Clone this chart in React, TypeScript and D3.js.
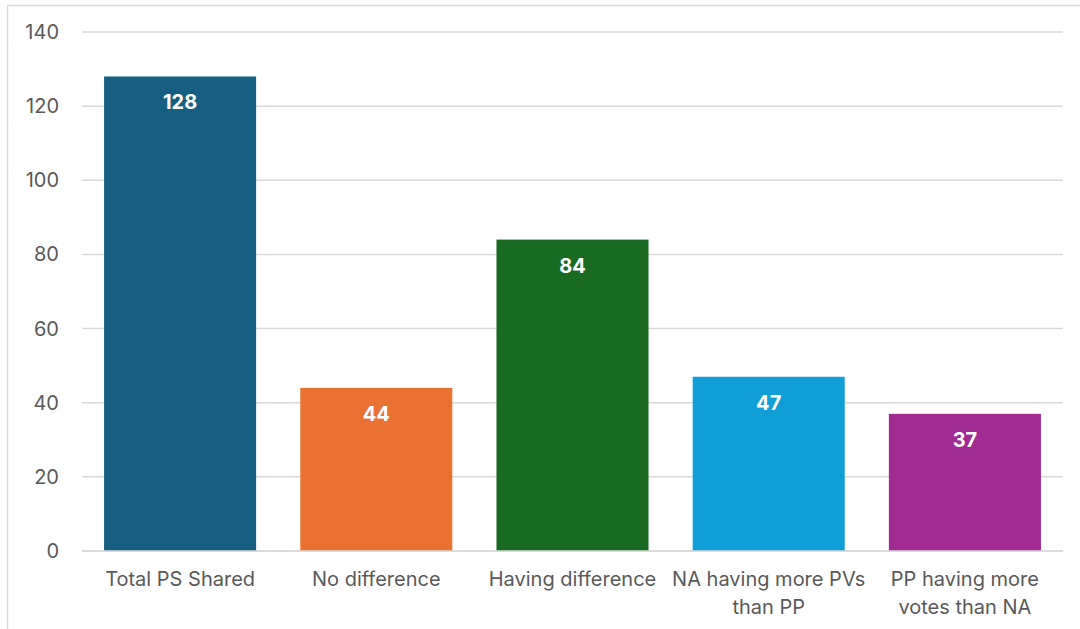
import React from "react";
import * as d3 from "d3";

const categories: string[][] = [
  ["Total PS Shared"],
  ["No difference"],
  ["Having difference"],
  ["NA having more PVs", "than PP"],
  ["PP having more", "votes than NA"],
];
const values = [128, 44, 84, 47, 37];
const colors = ["#156082", "#E97132", "#196B24", "#0F9ED5", "#A02B93"];
const yTicks = [0, 20, 40, 60, 80, 100, 120, 140];

const W = 1080;
const H = 629;
const FONT = "Inter, 'Open Sans', sans-serif";

export default function App() {
  const left = 82;
  const right = 1063;
  const top = 32;
  const bottom = 551;
  const x = d3
    .scaleBand<number>()
    .domain(values.map((_, i) => i))
    .range([left, right])
    .paddingInner(0.225)
    .paddingOuter(0.1125);
  const y = d3.scaleLinear().domain([0, 140]).range([bottom, top]);

  return (
    <div style={{ position: "fixed", left: 0, top: 0, width: W, height: H, background: "#fff" }}>
      <svg width={W} height={H} style={{ display: "block", fontFamily: FONT }}>
        <rect x={7.5} y={5.5} width={W + 10} height={H + 10} fill="#fff" stroke="#d9d9d9" strokeWidth={1.5} />
        {yTicks.map((t) => (
          <g key={t}>
            <line x1={left} x2={right} y1={y(t)} y2={y(t)} stroke="#d9d9d9" strokeWidth={1.5} />
            <text x={59} y={y(t)} dy="0.35em" textAnchor="end" fontSize={20} fill="#595959">
              {t}
            </text>
          </g>
        ))}
        {values.map((v, i) => (
          <g key={i}>
            <rect x={x(i)} y={y(v)} width={x.bandwidth()} height={y(0) - y(v)} fill={colors[i]} />
            <text
              x={(x(i) as number) + x.bandwidth() / 2}
              y={y(v) + 26}
              dy="0.35em"
              textAnchor="middle"
              fontSize={20}
              fontWeight="bold"
              fill="#fff"
            >
              {v}
            </text>
            {categories[i].map((line, j) => (
              <text
                key={j}
                x={(x(i) as number) + x.bandwidth() / 2}
                y={579 + j * 28}
                dy="0.35em"
                textAnchor="middle"
                fontSize={20}
                fill="#595959"
              >
                {line}
              </text>
            ))}
          </g>
        ))}
        <line x1={left} x2={right} y1={bottom} y2={bottom} stroke="#d9d9d9" strokeWidth={1.5} />
      </svg>
    </div>
  );
}
